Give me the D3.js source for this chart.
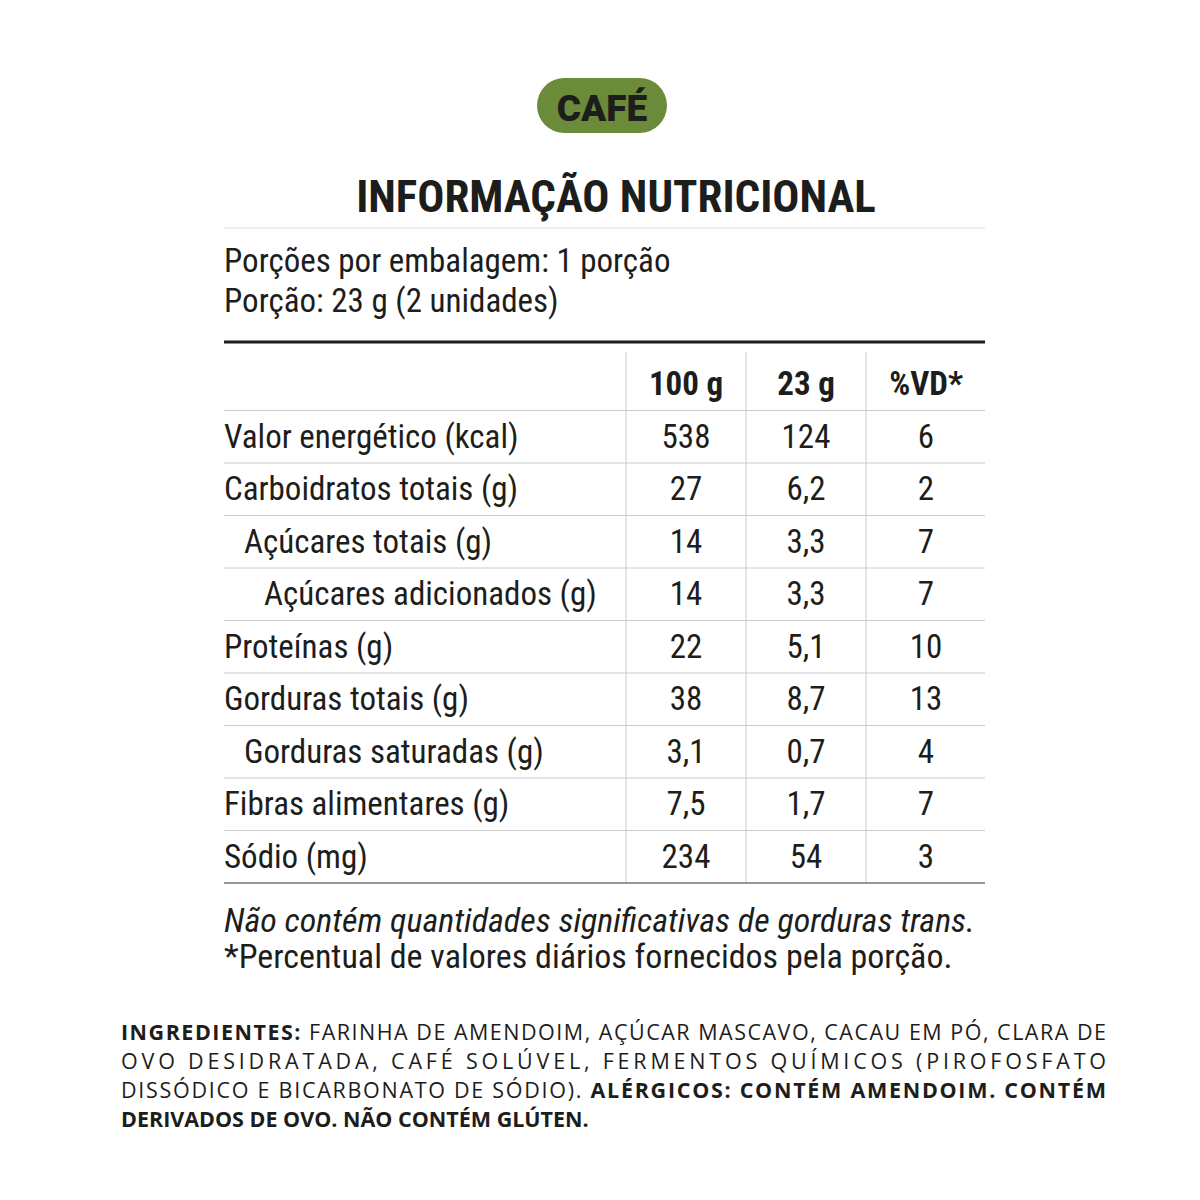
<!DOCTYPE html><html><head><meta charset="utf-8">
<script src="https://cdn.jsdelivr.net/npm/d3@7"></script>
<style>body{margin:0;background:#fff}</style></head><body>
<script>
const rowLabels=["Valor energético (kcal)","Carboidratos totais (g)","Açúcares totais (g)","Açúcares adicionados (g)","Proteínas (g)","Gorduras totais (g)","Gorduras saturadas (g)","Fibras alimentares (g)","Sódio (mg)"];
const rowIndent=[0,0,1,2,0,0,1,0,0];
const per100=["538","27","14","14","22","38","3,1","7,5","234"];
const per23=["124","6,2","3,3","3,3","5,1","8,7","0,7","1,7","54"];
const pctVD=["6","2","7","7","10","13","4","7","3"];
const columns=["100 g","23 g","%VD*"];
const ingredientLines=[
 [["INGREDIENTES: ",1],["FARINHA DE AMENDOIM, AÇÚCAR MASCAVO, CACAU EM PÓ, CLARA DE",0]],
 [["OVO DESIDRATADA, CAFÉ SOLÚVEL, FERMENTOS QUÍMICOS (PIROFOSFATO",0]],
 [["DISSÓDICO E BICARBONATO DE SÓDIO). ",0],["ALÉRGICOS: CONTÉM AMENDOIM. CONTÉM",1]],
 [["DERIVADOS DE OVO. NÃO CONTÉM GLÚTEN.",1]]];
const F="'Liberation Sans Narrow','Roboto Condensed',Roboto,sans-serif";
const svg=d3.select("body").append("svg").attr("width",1200).attr("height",1200);
const ink="#1d1d1b";
svg.append("rect").attr("x",537).attr("y",78).attr("width",130).attr("height",55).attr("rx",27.5).attr("fill","#6b8b3a");
svg.append("text").attr("x",602).attr("y",121).attr("text-anchor","middle").attr("font-family","Roboto,sans-serif").attr("font-weight",900).attr("font-size",37).attr("fill",ink).text("CAFÉ");
svg.append("text").attr("x",616).attr("y",212).attr("text-anchor","middle").attr("font-family",F).attr("font-weight",700).attr("font-size",45).attr("fill",ink).text("INFORMAÇÃO NUTRICIONAL");
const L=224,R=985;
svg.append("line").attr("x1",L).attr("x2",R).attr("y1",228).attr("y2",228).attr("stroke","#ddd");
svg.append("text").attr("x",L).attr("y",272).attr("font-family",F).attr("font-size",33).attr("fill",ink).text("Porções por embalagem: 1 porção");
svg.append("text").attr("x",L).attr("y",312).attr("font-family",F).attr("font-size",33).attr("fill",ink).text("Porção: 23 g (2 unidades)");
svg.append("line").attr("x1",L).attr("x2",R).attr("y1",342).attr("y2",342).attr("stroke",ink).attr("stroke-width",3);
const bw=52.5;
const y=d3.scaleBand().domain(d3.range(-1,rowLabels.length)).range([883-bw*10,883]);
const x=d3.scaleBand().domain(columns).range([626,986]);
[626,746,866].forEach(v=>svg.append("line").attr("x1",v).attr("x2",v).attr("y1",352).attr("y2",883).attr("stroke","#ccc"));
rowLabels.forEach((d,i)=>svg.append("line").attr("x1",L).attr("x2",R).attr("y1",y(i)).attr("y2",y(i)).attr("stroke","#ccc"));
svg.append("line").attr("x1",L).attr("x2",R).attr("y1",883).attr("y2",883).attr("stroke","#777").attr("stroke-width",1.5);
columns.forEach(c=>svg.append("text").attr("x",x(c)+x.bandwidth()/2).attr("y",y(-1)+bw/2+11).attr("text-anchor","middle").attr("font-family",F).attr("font-weight",700).attr("font-size",33).attr("fill",ink).text(c));
rowLabels.forEach((d,i)=>{
 const cy=y(i)+bw/2+11;
 svg.append("text").attr("x",L+rowIndent[i]*20).attr("y",cy).attr("font-family",F).attr("font-size",33).attr("fill",ink).text(d);
 [per100,per23,pctVD].forEach((arr,j)=>svg.append("text").attr("x",x(columns[j])+x.bandwidth()/2).attr("y",cy).attr("text-anchor","middle").attr("font-family",F).attr("font-size",33).attr("fill",ink).text(arr[i]));
});
svg.append("text").attr("x",L).attr("y",932).attr("font-family",F).attr("font-style","italic").attr("font-size",34).attr("fill",ink).text("Não contém quantidades significativas de gorduras trans.");
svg.append("text").attr("x",L).attr("y",968).attr("font-family",F).attr("font-size",34).attr("fill",ink).text("*Percentual de valores diários fornecidos pela porção.");
ingredientLines.forEach((ln,i)=>{
 const t=svg.append("text").attr("x",121).attr("y",1040+i*29).attr("font-family","'Open Sans',Lato,sans-serif").attr("font-size",21.5).attr("fill",ink);
 if(i<3) t.attr("textLength",985).attr("lengthAdjust","spacing");
 ln.forEach(s=>t.append("tspan").attr("font-weight",s[1]?700:400).text(s[0]));
});
</script></body></html>
